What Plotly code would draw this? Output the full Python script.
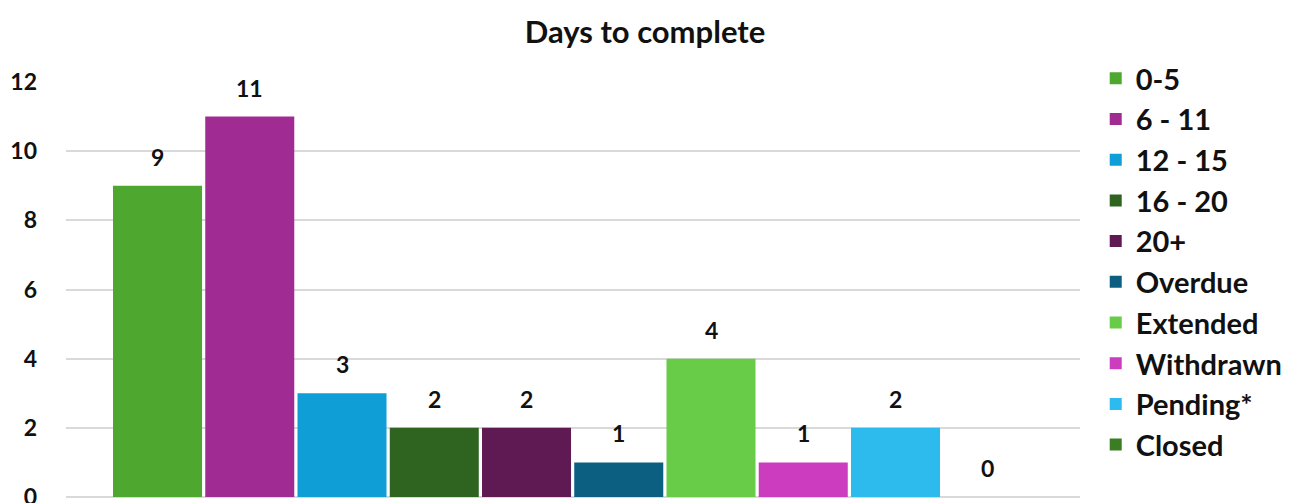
import plotly.graph_objects as go

categories = ["0-5", "6 - 11", "12 - 15", "16 - 20", "20+", "Overdue",
              "Extended", "Withdrawn", "Pending*", "Closed"]
counts = [9, 11, 3, 2, 2, 1, 4, 1, 2, 0]
colors = ["#4EA72E", "#A02B93", "#0F9ED5", "#2E6420", "#5F1A54",
          "#0C5F80", "#68CC48", "#CB3CBF", "#2DBBEE", "#3B7D23"]
y_ticks = [0, 2, 4, 6, 8, 10, 12]

FONT = "Lato, 'Open Sans', sans-serif"
INK = "#111111"

fig = go.Figure()
for i, (name, val, col) in enumerate(zip(categories, counts, colors)):
    fig.add_trace(go.Bar(
        x=[i], y=[val], name=name, width=0.965,
        legendgroup=name,
        marker=dict(color=col, line=dict(width=0)),
        hoverinfo="name+y",
    ))
    # value label sitting above each bar
    fig.add_annotation(
        x=i, y=val, text=f"<b>{val}</b>", showarrow=False,
        yanchor="middle", yshift=29,
        font=dict(family=FONT, size=23, color=INK),
    )

fig.update_layout(
    width=1290, height=503,
    plot_bgcolor="white", paper_bgcolor="white",
    margin=dict(l=66, r=210, t=82, b=6, autoexpand=False),
    title=dict(text="<b>Days to complete</b>", x=0.5, xanchor="center",
               y=0.937, yanchor="middle",
               font=dict(family=FONT, size=31, color=INK)),
    font=dict(family=FONT, color=INK),
    xaxis=dict(range=[-0.992, 10.0], showticklabels=False, showgrid=False,
               zeroline=False, showline=False, automargin=False),
    yaxis=dict(range=[0, 12], tickvals=y_ticks, showgrid=True,
               gridcolor="#D9D9D9", gridwidth=1.5, zeroline=True,
               zerolinecolor="#D9D9D9", zerolinewidth=1.5,
               tickfont=dict(family=FONT, size=23, color=INK, weight="bold"),
               ticks="", ticklabelstandoff=28, ticklabeloverflow="allow",
               automargin=False),
    legend=dict(x=1.0155, xanchor="left", y=1.07, yanchor="top",
                font=dict(family=FONT, size=29, color=INK, weight="bold"),
                itemwidth=30, tracegroupgap=0, maxheight=500,
                bgcolor="rgba(0,0,0,0)"),
    showlegend=True,
)

fig.write_html("out.html")
